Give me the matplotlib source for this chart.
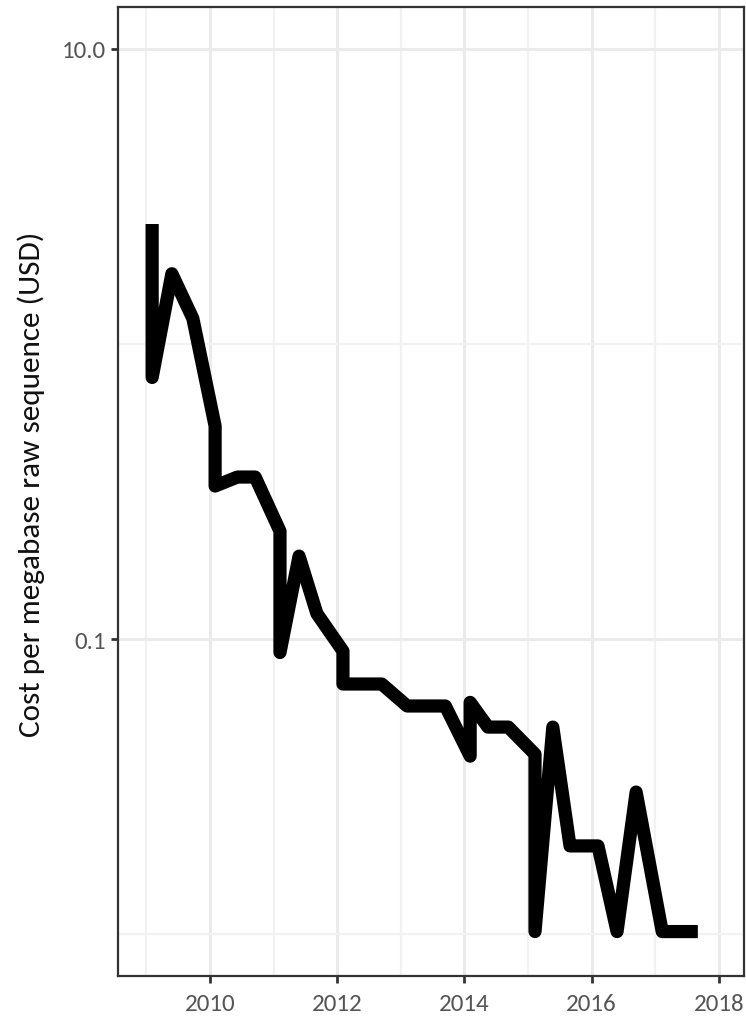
import numpy as np
import matplotlib
matplotlib.use("Agg")
import matplotlib.pyplot as plt
from matplotlib.ticker import FixedLocator, NullFormatter

# decimal year vs cost per megabase (USD)
years = [2009.09, 2009.09, 2009.40, 2009.73, 2010.08, 2010.08, 2010.43, 2010.71,
         2011.10, 2011.10, 2011.40, 2011.68, 2012.09, 2012.09, 2012.70, 2013.10,
         2013.70, 2014.09, 2014.09, 2014.37, 2014.69, 2015.11, 2015.11, 2015.39,
         2015.66, 2016.10, 2016.40, 2016.70, 2017.11, 2017.67]
cost = [2.55, 0.77, 1.73, 1.22, 0.527, 0.33, 0.354, 0.354,
        0.232, 0.090, 0.191, 0.122, 0.091, 0.0704, 0.0704, 0.0593,
        0.0593, 0.0401, 0.061, 0.0503, 0.0503, 0.0407, 0.0102, 0.0503,
        0.0199, 0.0199, 0.0102, 0.0303, 0.0102, 0.0102]

xticks = [2010, 2012, 2014, 2016, 2018]
xminor = [2009, 2011, 2013, 2015, 2017]
yticks = [10.0, 0.1]
yminor = [1.0, 0.01]

plt.rcParams['font.family'] = ['Carlito', 'Lato', 'DejaVu Sans']

fig = plt.figure(figsize=(7.46, 10.2), dpi=100)
ax = fig.add_axes([118/746, 1-977/1020, (744-118)/746, (977-8)/1020])

ax.set_yscale('log')
ax.plot(years, cost, color='black', lw=9.5, solid_joinstyle='round',
        solid_capstyle='butt', zorder=3)

ax.set_xlim(2008.553, 2018.396)
ax.set_ylim(10**-2.142, 10**1.142)

ax.xaxis.set_major_locator(FixedLocator(xticks))
ax.xaxis.set_minor_locator(FixedLocator(xminor))
ax.yaxis.set_major_locator(FixedLocator(yticks))
ax.yaxis.set_minor_locator(FixedLocator(yminor))
ax.yaxis.set_minor_formatter(NullFormatter())
ax.set_yticklabels(['10.0', '0.1'])
ax.set_xticklabels([str(t) for t in xticks])

ax.grid(True, which='major', color='#ebebeb', lw=2.2, zorder=0)
ax.grid(True, which='minor', color='#f2f2f2', lw=1.6, zorder=0)
ax.set_axisbelow(True)

ax.tick_params(which='major', length=5, width=2, color='#333333',
               labelsize=18, labelcolor='#555555')
ax.tick_params(axis='x', pad=7)
ax.tick_params(axis='y', pad=4)
ax.tick_params(which='minor', length=0)

for sp in ax.spines.values():
    sp.set_color('#333333')
    sp.set_linewidth(1.6)

ax.set_ylabel('Cost per megabase raw sequence (USD)', fontsize=22.5,
              color='#111111')
ax.yaxis.set_label_coords(-0.1166, 0.508)

fig.savefig('out.png', dpi=100)
